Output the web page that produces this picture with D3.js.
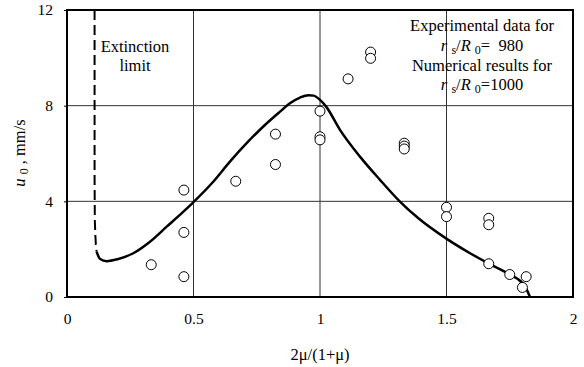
<!DOCTYPE html>
<html>
<head>
<meta charset="utf-8">
<script src="https://cdn.jsdelivr.net/npm/d3@7"></script>
<style>
  body { margin: 0; background: #fff; }
  svg text { font-family: "Liberation Serif", "DejaVu Serif", serif !important; fill: #000; }
</style>
</head>
<body>
<svg id="chart"></svg>
<script>
// Experimental data (r_s/R_0 = 980)
const expX = [0.333, 0.462, 0.462, 0.462, 0.667, 0.824, 0.824, 1.0, 1.0, 1.0,
              1.111, 1.2, 1.2, 1.333, 1.333, 1.333, 1.5, 1.5, 1.667, 1.667,
              1.667, 1.75, 1.815, 1.8];
const expY = [1.35, 4.47, 2.70, 0.85, 4.84, 6.81, 5.54, 7.77, 6.70, 6.57,
              9.12, 10.24, 9.98, 6.43, 6.31, 6.19, 3.75, 3.36, 3.29, 3.02,
              1.39, 0.94, 0.85, 0.40];

// Numerical results (r_s/R_0 = 1000), solid part
const curveX = [0.117, 0.13, 0.157, 0.2, 0.262, 0.328, 0.394, 0.46, 0.5, 0.578,
                0.644, 0.71, 0.776, 0.842, 0.881, 0.921, 0.955, 0.975, 1.0, 1.025,
                1.079, 1.158, 1.237, 1.316, 1.389, 1.498, 1.593, 1.665, 1.747, 1.8,
                1.815, 1.83];
const curveY = [1.9, 1.6, 1.5, 1.58, 1.83, 2.31, 2.94, 3.57, 3.97, 4.82,
                5.66, 6.43, 7.13, 7.75, 8.1, 8.34, 8.44, 8.42, 8.24, 7.95,
                6.99, 5.87, 4.9, 3.99, 3.29, 2.45, 1.83, 1.41, 0.96, 0.58,
                0.35, 0.0];

// Numerical results near extinction limit, dashed part
const dashX = [0.109, 0.109, 0.11, 0.112, 0.114, 0.117];
const dashY = [12, 5, 3.2, 2.6, 2.2, 1.9];

const xTicks = [0, 0.5, 1, 1.5, 2];
const yTicks = [0, 4, 8, 12];

const width = 584, height = 367;
const plotLeft = 67, plotRight = 573, plotTop = 10, plotBottom = 297;
const serif = "'Liberation Serif', 'DejaVu Serif', serif";
const fs = 16.5, subFs = 12;

const svg = d3.select("#chart")
    .attr("width", width)
    .attr("height", height)
    .attr("font-family", serif);

// Scales
const x = d3.scaleLinear().domain([0, 2]).range([plotLeft, plotRight]);
const y = d3.scaleLinear().domain([0, 12]).range([plotBottom, plotTop]);

// Grid lines
svg.append("g")
    .selectAll("line")
    .data([0.5, 1, 1.5])
    .enter()
    .append("line")
    .attr("x1", d => x(d)).attr("x2", d => x(d))
    .attr("y1", plotTop).attr("y2", plotBottom)
    .attr("stroke", "#333").attr("stroke-width", 1);

svg.append("g")
    .selectAll("line")
    .data([4, 8])
    .enter()
    .append("line")
    .attr("x1", plotLeft).attr("x2", plotRight)
    .attr("y1", d => y(d)).attr("y2", d => y(d))
    .attr("stroke", "#333").attr("stroke-width", 1);

// Axes
const xAxis = d3.axisBottom(x).tickValues(xTicks).tickSize(0).tickPadding(16)
    .tickFormat(d3.format("~g"));
const yAxis = d3.axisLeft(y).tickValues(yTicks).tickSize(3).tickPadding(11)
    .tickFormat(d3.format("d"));

const gx = svg.append("g")
    .attr("transform", `translate(0, ${plotBottom})`)
    .call(xAxis);
const gy = svg.append("g")
    .attr("transform", `translate(${plotLeft}, 0)`)
    .call(yAxis);

[gx, gy].forEach(g => {
    g.select(".domain").remove();
    g.attr("font-family", serif).attr("font-size", 15.5);
    g.selectAll("text").attr("fill", "#000");
    g.selectAll("line").attr("stroke", "#000");
});

// Frame
svg.append("rect")
    .attr("x", plotLeft).attr("y", plotTop)
    .attr("width", plotRight - plotLeft).attr("height", plotBottom - plotTop)
    .attr("fill", "none").attr("stroke", "#000").attr("stroke-width", 2);

// Numerical curve
const lineSolid = d3.line().x(d => x(d[0])).y(d => y(d[1])).curve(d3.curveMonotoneX);
const lineDash = d3.line().x(d => x(d[0])).y(d => y(d[1]));

svg.append("path")
    .datum(curveX.map((v, i) => [v, curveY[i]]))
    .attr("d", lineSolid)
    .attr("fill", "none").attr("stroke", "#000").attr("stroke-width", 2.5);

svg.append("path")
    .datum(dashX.map((v, i) => [v, dashY[i]]))
    .attr("d", lineDash)
    .attr("fill", "none").attr("stroke", "#000").attr("stroke-width", 2)
    .attr("stroke-dasharray", "10,5");

// Experimental points
svg.append("g")
    .selectAll("circle")
    .data(expX.map((v, i) => [v, expY[i]]))
    .enter()
    .append("circle")
    .attr("cx", d => x(d[0]))
    .attr("cy", d => y(d[1]))
    .attr("r", 5)
    .attr("fill", "#fff")
    .attr("stroke", "#000")
    .attr("stroke-width", 1);

// Annotations
const extText = svg.append("text")
    .attr("text-anchor", "middle")
    .attr("font-size", fs);
extText.append("tspan").attr("x", 135).attr("y", 52).text("Extinction");
extText.append("tspan").attr("x", 135).attr("y", 71).text("limit");

function ratioLabel(yPos, tail) {
    const t = svg.append("text").attr("text-anchor", "middle").attr("font-size", fs)
        .attr("x", 482).attr("y", yPos);
    t.append("tspan").attr("font-style", "italic").text("r ");
    t.append("tspan").attr("dy", 3).attr("font-size", subFs).text("s");
    t.append("tspan").attr("dy", -3).text("/");
    t.append("tspan").attr("font-style", "italic").text("R ");
    t.append("tspan").attr("dy", 3).attr("font-size", subFs).text("0");
    t.append("tspan").attr("dy", -3).text(tail);
}

svg.append("text").attr("text-anchor", "middle").attr("font-size", fs)
    .attr("x", 482).attr("y", 31).text("Experimental data for");
ratioLabel(51, "=\u00a0 980");
svg.append("text").attr("text-anchor", "middle").attr("font-size", fs)
    .attr("x", 482).attr("y", 71).text("Numerical results for");
ratioLabel(90, "=1000");

// Axis titles
svg.append("text")
    .attr("x", 320).attr("y", 360)
    .attr("text-anchor", "middle")
    .attr("font-size", fs)
    .text("2\u03bc/(1+\u03bc)");

const yt = svg.append("text")
    .attr("transform", "translate(25, 153) rotate(-90)")
    .attr("text-anchor", "middle")
    .attr("font-size", fs);
yt.append("tspan").attr("font-style", "italic").text("u ");
yt.append("tspan").attr("dy", 3).attr("font-size", subFs).text("0");
yt.append("tspan").attr("dy", -3).text(" ,  mm/s");
</script>
</body>
</html>
